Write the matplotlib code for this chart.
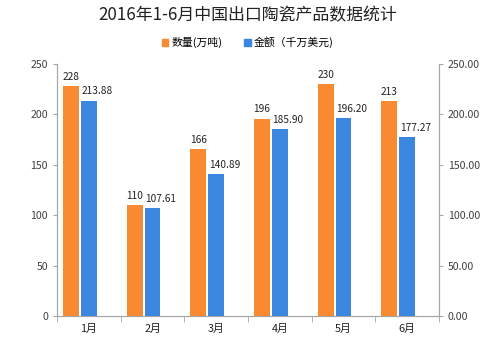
import matplotlib
matplotlib.use("Agg")
import matplotlib.pyplot as plt
import numpy as np
from matplotlib.patches import Patch

plt.rcParams['font.family'] = ['Noto Sans CJK SC', 'DejaVu Sans']

months = ["1月", "2月", "3月", "4月", "5月", "6月"]
quantity = [228, 110, 166, 196, 230, 213]
amount = [213.88, 107.61, 140.89, 185.90, 196.20, 177.27]
qty_labels = ["228", "110", "166", "196", "230", "213"]
amt_labels = ["213.88", "107.61", "140.89", "185.90", "196.20", "177.27"]
left_ticks = [0, 50, 100, 150, 200, 250]
right_ticks = [0, 50, 100, 150, 200, 250]

orange = "#F98A32"
blue = "#3B86DE"
axis_gray = "#A6A6A6"
text_col = "#404040"

fig = plt.figure(figsize=(4.96, 3.43), dpi=100)
ax = fig.add_axes([0.115, 0.079, 0.77, 0.734])
ax2 = ax.twinx()

x = np.arange(len(months))
w = 0.25
ax.bar(x - 0.28, quantity, width=w, color=orange, zorder=3)
ax2.bar(x + 0.0, amount, width=w, color=blue, zorder=3)

for xi, v, s in zip(x, quantity, qty_labels):
    ax.text(xi - 0.28, v + 4, s, ha="center", va="bottom", fontsize=7.3, color="#222222")
for xi, v, s in zip(x, amount, amt_labels):
    ax2.text(xi + 0.13, v + 4, s, ha="center", va="bottom", fontsize=7.3, color="#222222")

for a in (ax, ax2):
    a.set_ylim(0, 250)
    a.set_xlim(-0.5, 5.5)
    for sp in a.spines.values():
        sp.set_color(axis_gray)
        sp.set_linewidth(0.8)
    a.spines['top'].set_visible(False)

ax.set_yticks(left_ticks)
ax.set_yticklabels([str(t) for t in left_ticks], fontsize=7.6, color=text_col)
ax2.set_yticks(right_ticks)
ax2.set_yticklabels([f"{t:.2f}" for t in right_ticks], fontsize=7.6, color=text_col)
ax.tick_params(axis='y', length=3, color=axis_gray)
ax2.tick_params(axis='y', length=3, color=axis_gray)

ax.set_xticks(x)
ax.set_xticklabels(months, fontsize=7.8, color="#222222")
ax.set_xticks(np.arange(-0.5, 6.0, 1.0), minor=True)
ax.tick_params(axis='x', which='major', length=0, pad=6)
ax.tick_params(axis='x', which='minor', length=4, color=axis_gray)

fig.text(0.5, 0.955, "2016年1-6月中国出口陶瓷产品数据统计", ha="center", va="center",
         fontsize=12.2, color="#222222")

handles = [Patch(color=orange, label="数量(万吨)"), Patch(color=blue, label="金额（千万美元)")]
fig.legend(handles=handles, loc="center", bbox_to_anchor=(0.5, 0.877), ncol=2,
           frameon=False, fontsize=7.8, handlelength=0.6, handleheight=0.6,
           handletextpad=0.3, columnspacing=2.0)

fig.savefig("out.png", dpi=100)
